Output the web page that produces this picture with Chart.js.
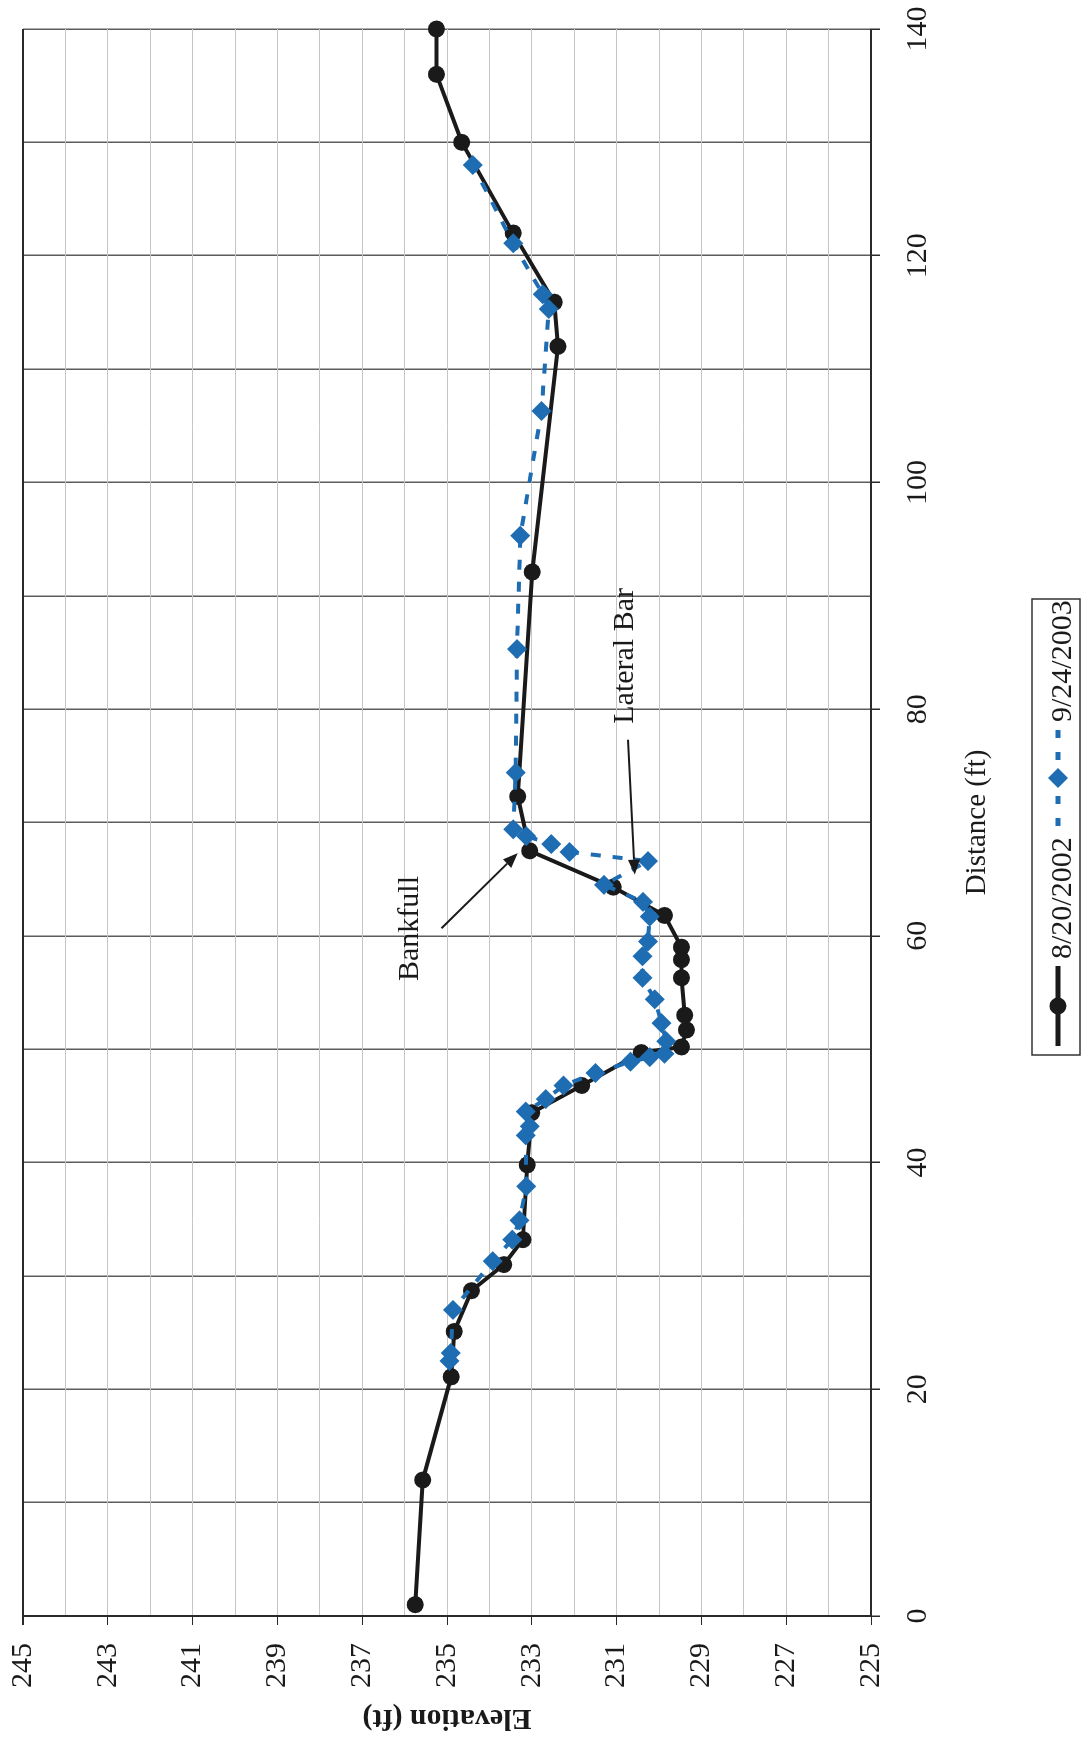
<!DOCTYPE html>
<html lang="en">
<head>
<meta charset="utf-8">
<title>Cross Section - Elevation vs Distance</title>
<script src="https://cdn.jsdelivr.net/npm/chart.js"></script>
<style>
  html, body { margin: 0; padding: 0; background: #fff; overflow: hidden; }
  body { width: 1081px; height: 1742px; position: relative; }
  /* the chart is laid out flat and then turned a quarter turn, like the scanned page */
  #turn { position: absolute; left: 0; top: 1742px; width: 1742px; height: 1081px;
          transform-origin: 0 0; transform: rotate(-90deg); background: #fff; }
</style>
</head>
<body>
<div id="turn"><canvas id="chart" width="1742" height="1081"></canvas></div>
<script>
// survey of 8/20/2002
const distance2002 = [1.0, 12.0, 21.1, 25.1, 28.7, 31.0, 33.2, 39.8, 44.4, 46.8, 49.7, 50.2, 51.7, 53.0,
                      56.3, 57.9, 59.0, 61.8, 64.3, 67.5, 72.3, 92.1, 112.0, 115.9, 122.0, 130.0, 136.0, 140.0];
const elevation2002 = [235.75, 235.57, 234.90, 234.83, 234.42, 233.66, 233.21, 233.11, 233.00, 231.82, 230.42, 229.47, 229.35, 229.39,
                       229.47, 229.47, 229.47, 229.87, 231.08, 233.05, 233.33, 232.99, 232.38, 232.47, 233.44, 234.65, 235.25, 235.25];

// survey of 9/24/2003
const distance2003 = [22.5, 23.2, 27.0, 31.3, 33.2, 34.9, 37.9, 42.4, 43.2, 44.5, 45.6, 46.8, 47.9, 48.9, 49.3, 49.6, 50.7,
                      52.3, 54.4, 56.3, 58.2, 59.5, 61.7, 63.0, 64.5, 66.6, 67.4, 68.1, 68.8, 69.4, 74.4, 85.3, 95.3,
                      106.3, 115.3, 116.6, 121.1, 128.0];
const elevation2003 = [234.94, 234.91, 234.86, 233.92, 233.46, 233.29, 233.13, 233.14, 233.05, 233.14, 232.67, 232.25, 231.50, 230.67, 230.22, 229.87, 229.83,
                       229.94, 230.10, 230.39, 230.39, 230.26, 230.22, 230.38, 231.30, 230.26, 232.11, 232.54, 233.13, 233.44, 233.38, 233.35, 233.27,
                       232.77, 232.60, 232.74, 233.44, 234.39];

const seriesLabels = ['8/20/2002', '9/24/2003'];

// callouts: [text, label centre, arrow tail, arrow head] as [distance, elevation]
const noteText = ['Bankfull', 'Lateral Bar'];
const noteAt   = [[60.65, 235.88], [84.7, 230.79]];
const noteFrom = [[60.67, 235.13], [77.3, 230.73]];
const noteTo   = [[67.3, 233.33], [65.4, 230.57]];

const serif = "'Liberation Serif', 'Times New Roman', serif";
const ink = '#1a1a1a';
const blue = '#1e6cb2';

Chart.defaults.font.family = serif;
Chart.defaults.color = ink;

function pairs(xs, ys) {
    return xs.map((x, i) => ({ x: x, y: ys[i] }));
}

function arrow(ctx, x0, y0, x1, y1) {
    const a = Math.atan2(y1 - y0, x1 - x0);
    const len = 15, half = 6;
    ctx.beginPath();
    ctx.moveTo(x0, y0);
    ctx.lineTo(x1 - Math.cos(a) * len, y1 - Math.sin(a) * len);
    ctx.stroke();
    ctx.beginPath();
    ctx.moveTo(x1, y1);
    ctx.lineTo(x1 - Math.cos(a) * len - Math.sin(a) * half, y1 - Math.sin(a) * len + Math.cos(a) * half);
    ctx.lineTo(x1 - Math.cos(a) * len + Math.sin(a) * half, y1 - Math.sin(a) * len - Math.cos(a) * half);
    ctx.closePath();
    ctx.fill();
}

const notesPlugin = {
    id: 'notes',
    afterDatasetsDraw(chart) {
        const { ctx, scales: { x, y } } = chart;
        ctx.save();
        ctx.fillStyle = ink;
        ctx.strokeStyle = ink;
        ctx.lineWidth = 2;
        ctx.font = '30px ' + serif;
        ctx.textAlign = 'center';
        ctx.textBaseline = 'middle';
        noteText.forEach((t, i) => {
            ctx.fillText(t, x.getPixelForValue(noteAt[i][0]), y.getPixelForValue(noteAt[i][1]));
            arrow(ctx,
                x.getPixelForValue(noteFrom[i][0]), y.getPixelForValue(noteFrom[i][1]),
                x.getPixelForValue(noteTo[i][0]), y.getPixelForValue(noteTo[i][1]));
        });
        ctx.restore();
    }
};

// Excel style legend box under the axis title
const boxLegend = {
    id: 'boxLegend',
    afterDraw(chart) {
        const ctx = chart.ctx;
        const sets = chart.data.datasets;
        const sampleAt = [[696, 776], [916, 1012]];
        const textAt = [783, 1020];
        const mid = 1058;
        ctx.save();
        ctx.font = '30px ' + serif;
        ctx.strokeStyle = '#333';
        ctx.lineWidth = 1.5;
        ctx.strokeRect(687, 1032, 456, 48);
        sets.forEach((ds, i) => {
            const [a, b] = sampleAt[i];
            ctx.strokeStyle = ds.borderColor;
            ctx.fillStyle = ds.backgroundColor;
            ctx.lineWidth = ds.borderWidth + 1;
            ctx.setLineDash(ds.borderDash ? [8, 14] : []);
            ctx.beginPath();
            ctx.moveTo(a, mid);
            ctx.lineTo(b, mid);
            ctx.stroke();
            ctx.setLineDash([]);
            Chart.helpers.drawPoint(ctx, { pointStyle: ds.pointStyle, radius: ds.pointRadius, borderWidth: 0 }, (a + b) / 2, mid);
            ctx.fillStyle = ink;
            ctx.textBaseline = 'alphabetic';
            ctx.fillText(ds.label, textAt[i], 1071);
        });
        ctx.restore();
    }
};

// keep the plot box where the page has it: no extra room for half labels
function noOverhang(s) {
    s.paddingTop = 0;
    s.paddingBottom = 0;
    s.paddingLeft = 0;
    s.paddingRight = 0;
}

const chart = new Chart(document.getElementById('chart'), {
    type: 'scatter',
    data: {
        datasets: [
            {
                label: seriesLabels[0],
                data: pairs(distance2002, elevation2002),
                showLine: true,
                borderColor: ink,
                backgroundColor: ink,
                borderWidth: 4,
                pointStyle: 'circle',
                pointRadius: 8.5,
                pointBorderWidth: 0,
                clip: false,
                order: 2
            },
            {
                label: seriesLabels[1],
                data: pairs(distance2003, elevation2003),
                showLine: true,
                borderColor: blue,
                backgroundColor: blue,
                borderWidth: 4,
                borderDash: [10, 12],
                pointStyle: 'rectRot',
                pointRadius: 10,
                pointBorderWidth: 0,
                clip: false,
                order: 1
            }
        ]
    },
    options: {
        responsive: false,
        animation: false,
        devicePixelRatio: 1,
        layout: { padding: { top: 23, right: 29, left: 4, bottom: 80 } },
        plugins: { legend: { display: false }, tooltip: { enabled: false } },
        scales: {
            x: {
                type: 'linear',
                min: 0,
                max: 140,
                ticks: {
                    stepSize: 10,
                    autoSkip: false,
                    maxRotation: 0,
                    padding: 20,
                    font: { size: 30 },
                    callback: v => (v % 20 === 0 ? v : '')
                },
                grid: {
                    color: '#5c5c5c',
                    lineWidth: 1.5,
                    tickLength: 9,
                    tickColor: c => (c.tick && c.tick.value % 20 === 0 ? '#2a2a2a' : 'rgba(0,0,0,0)')
                },
                border: { color: '#2a2a2a', width: 2 },
                title: { display: true, text: 'Distance (ft)', font: { size: 29 }, padding: { top: 0, bottom: 6 } },
                afterFit: s => { s.height = 130; noOverhang(s); }
            },
            y: {
                type: 'linear',
                min: 225,
                max: 245,
                ticks: {
                    stepSize: 1,
                    autoSkip: false,
                    padding: 18,
                    font: { size: 30 },
                    callback: v => (Math.abs(v % 2) === 1 ? v : '')
                },
                grid: {
                    color: c => (c.tick && c.tick.value === 245 ? '#2a2a2a' : '#c6c6c6'),
                    lineWidth: c => (c.tick && c.tick.value === 245 ? 2 : 1),
                    tickLength: 9,
                    tickColor: c => (c.tick && Math.abs(c.tick.value % 2) === 1 ? '#2a2a2a' : 'rgba(0,0,0,0)')
                },
                border: { color: '#2a2a2a', width: 2 },
                title: { display: true, text: 'Elevation (ft)', font: { size: 30, weight: 'bold' }, padding: { top: 2, bottom: 0 } },
                afterFit: s => { s.width = 122; noOverhang(s); }
            }
        }
    },
    plugins: [notesPlugin, boxLegend]
});
</script>
</body>
</html>
